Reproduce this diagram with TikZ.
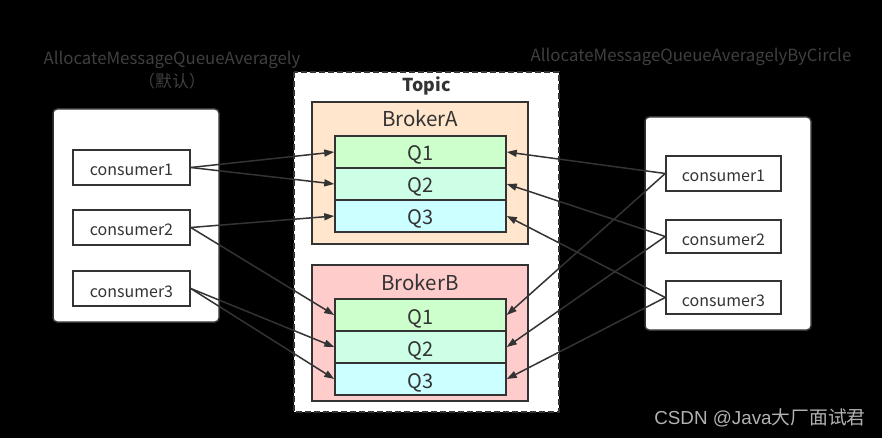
\documentclass[tikz,border=0pt]{standalone}
\usepackage{fontspec}
\setmainfont{Noto Sans CJK SC}
\newfontfamily\csdnfont{Liberation Sans}
\usetikzlibrary{arrows.meta}
\definecolor{linegray}{HTML}{333333}
\definecolor{labelgray}{HTML}{404040}
\definecolor{peach}{HTML}{FFE6CC}
\definecolor{rose}{HTML}{FFCCCC}
\definecolor{qone}{HTML}{CCFFCC}
\definecolor{qtwo}{HTML}{CCFFE6}
\definecolor{qthree}{HTML}{CCFFFF}
\begin{document}
\begin{tikzpicture}[x=1pt,y=-1pt,
    consumer/.style={draw=linegray,line width=1.5pt,fill=white,minimum width=117pt,minimum height=35pt,text height=17pt,text depth=0pt,font=\fontsize{16}{18}\selectfont,text=linegray},
    queue/.style={draw=linegray,line width=1.5pt,minimum width=171pt,minimum height=32pt,text height=20pt,text depth=2pt,font=\fontsize{20}{22}\selectfont,text=linegray},
    link/.style={draw=linegray,line width=1.5pt,->,>={Triangle[length=10pt,width=7pt]}}]
    \fill[black] (0,0) rectangle (882,438);
    \useasboundingbox (0,0) rectangle (882,438);
    % strategy labels
    \node[text=labelgray,font=\fontsize{16.8}{18}\selectfont] (lefttitle) at (172,60) {AllocateMessageQueueAveragely};
    \node[text=labelgray,font=\fontsize{16.8}{18}\selectfont] (leftnote) at (172,81) {（默认）};
    \node[text=labelgray,font=\fontsize{16.8}{18}\selectfont] (righttitle) at (691,57) {AllocateMessageQueueAveragelyByCircle};
    % consumer groups
    \draw[linegray,line width=1.5pt,fill=white,rounded corners=4pt] (53,109) rectangle (219,322);
    \draw[linegray,line width=1.5pt,fill=white,rounded corners=4pt] (645,117) rectangle (811,330);
    \node[consumer] (L1) at (131.5,167.5) {consumer1};
    \node[consumer] (L2) at (131.5,227.5) {consumer2};
    \node[consumer] (L3) at (131.5,288.5) {consumer3};
    \node[consumer,minimum width=115pt] (R1) at (723.5,173.5) {consumer1};
    \node[consumer,minimum width=115pt,minimum height=33pt] (R2) at (723.5,236.5) {consumer2};
    \node[consumer,minimum width=115pt,minimum height=33pt] (R3) at (723.5,297.5) {consumer3};
    % topic
    \draw[linegray,line width=1.5pt,fill=white,dash pattern=on 6pt off 3pt] (294,72) rectangle (559,412);
    \node[font=\fontsize{17.8}{19}\selectfont\bfseries,text=linegray] (topic) at (426.5,86) {Topic};
    \draw[linegray,line width=1.5pt,fill=peach] (312,102) rectangle (528,244);
    \node[font=\fontsize{20.5}{22}\selectfont,text=linegray] (brokerA) at (420,118) {BrokerA};
    \node[queue,fill=qone] (A1) at (420.5,152) {Q1};
    \node[queue,fill=qtwo] (A2) at (420.5,184) {Q2};
    \node[queue,fill=qthree] (A3) at (420.5,216) {Q3};
    \draw[linegray,line width=1.5pt,fill=rose] (312,265) rectangle (528,401);
    \node[font=\fontsize{20.5}{22}\selectfont,text=linegray] (brokerB) at (420,282) {BrokerB};
    \node[queue,fill=qone] (B1) at (420.5,315) {Q1};
    \node[queue,fill=qtwo] (B2) at (420.5,347) {Q2};
    \node[queue,fill=qthree] (B3) at (420.5,379) {Q3};
    % averagely
    \draw[link] (L1.east) -- (A1.west);
    \draw[link] (L1.east) -- (A2.west);
    \draw[link] (L2.east) -- (A3.west);
    \draw[link] (L2.east) -- (B1.west);
    \draw[link] (L3.east) -- (B2.west);
    \draw[link] (L3.east) -- (B3.west);
    % by circle
    \draw[link] (R1.west) -- (A1.east);
    \draw[link] (R1.west) -- (B1.east);
    \draw[link] (R2.west) -- (A2.east);
    \draw[link] (R2.west) -- (B2.east);
    \draw[link] (R3.west) -- (A3.east);
    \draw[link] (R3.west) -- (B3.east);
    % watermark
    \node[text=white!70!black,font=\fontsize{18.8}{20}\selectfont] (mark) at (760,418) {{\csdnfont CSDN @Java}大厂面试君};
\end{tikzpicture}
\end{document}
